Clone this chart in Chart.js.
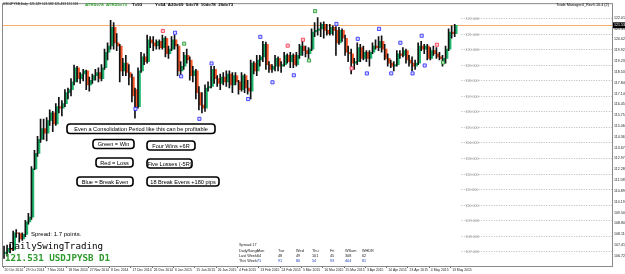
<!DOCTYPE html>
<html>
<head>
<meta charset="utf-8">
<script src="https://cdn.jsdelivr.net/npm/chart.js@4.4.0/dist/chart.umd.min.js"></script>
<style>
html, body { margin: 0; padding: 0; background: #fff; }
#wrap { width: 625px; height: 274px; }
</style>
</head>
<body>
<div id="wrap"><canvas id="chart" width="625" height="274"></canvas></div>
<script>
// USDJPYSB daily bars
var firstDay = new Date(2014, 9, 20);
var opens = [106.85,106.95,107.20,107.10,108.20,108.15,107.80,108.10,108.90,109.20,
  112.30,113.30,114.20,114.90,114.60,115.40,115.90,115.20,116.30,116.20,
  116.50,117.20,117.40,117.90,118.80,118.10,118.40,118.60,117.70,118.00,
  118.30,118.50,118.10,118.80,119.80,120.20,121.40,120.40,120.20,118.60,
  119.10,118.50,118.20,117.40,116.30,118.60,119.50,119.20,120.60,120.40,
  120.20,120.50,120.10,120.70,119.70,120.00,120.60,120.20,118.60,118.90,
  119.60,119.30,118.30,118.60,117.20,116.40,116.20,117.50,117.60,118.70,
  118.10,117.80,118.20,117.90,118.40,117.70,118.30,117.90,117.40,118.30,
  117.50,117.30,119.10,118.60,119.30,119.50,120.30,119.00,118.70,118.90,
  119.40,118.90,119.00,119.60,119.20,119.60,119.00,119.60,120.20,119.90,
  119.70,120.00,121.10,121.20,121.30,121.60,121.20,121.00,121.40,121.20,
  120.40,121.20,120.70,119.80,119.70,119.10,119.20,120.10,119.40,119.80,
  119.40,119.80,120.20,120.10,120.50,120.00,119.40,119.10,118.90,119.00,
  119.70,119.60,119.90,119.30,119.10,118.90,119.10,120.20,120.00,120.20,
  119.40,119.90,119.70,119.50,119.10,119.40,120.00,121.10,121.00];
var highs = [107.35,107.40,107.45,108.30,108.40,108.20,108.20,109.00,109.45,112.45,
  113.50,114.40,115.50,115.50,115.60,116.10,116.00,116.50,116.90,116.70,
  117.40,117.50,118.10,118.98,118.90,118.50,118.70,118.65,118.20,118.40,
  118.70,118.80,119.00,120.00,120.40,121.85,121.70,121.00,120.30,119.40,
  119.60,119.00,118.40,117.50,118.80,119.80,119.70,120.90,120.80,120.80,
  120.60,120.60,120.90,120.80,120.20,120.80,120.90,120.30,119.20,119.80,
  120.00,119.50,118.90,118.70,117.60,117.20,117.70,117.90,118.90,118.90,
  118.30,118.40,118.50,118.60,118.60,118.50,118.50,118.00,118.50,118.40,
  118.00,119.30,119.20,119.60,119.60,120.50,120.45,119.20,119.00,119.60,
  119.50,119.20,119.80,119.70,119.80,119.70,119.80,120.30,120.60,120.20,
  120.10,121.30,121.70,122.03,121.70,121.75,121.60,121.60,121.50,121.45,
  121.40,121.30,120.90,120.20,120.00,119.40,120.40,120.30,120.20,119.90,
  119.90,120.40,120.60,120.80,120.85,120.30,119.70,119.30,119.20,119.90,
  119.90,120.10,120.00,119.60,119.50,119.30,120.40,120.50,120.30,120.30,
  120.10,120.20,120.10,119.80,119.60,120.20,121.30,121.50,121.60];
var lows = [106.55,106.70,106.90,107.05,107.90,107.60,107.70,107.95,108.75,109.05,
  112.25,113.10,114.00,114.20,114.10,115.10,114.70,115.10,115.90,115.70,
  116.30,116.80,117.00,117.70,117.90,117.80,117.95,117.40,117.30,117.80,
  118.00,117.90,117.95,118.70,119.30,120.00,120.00,119.90,117.90,118.30,
  118.30,117.70,116.60,115.57,116.20,118.50,119.00,119.10,120.10,119.90,
  120.00,120.00,120.00,119.50,119.40,119.90,120.00,118.30,118.20,118.70,
  119.10,118.00,117.90,116.80,116.10,115.90,116.00,117.30,117.50,117.80,
  117.60,117.40,117.70,117.60,117.50,117.20,117.70,117.10,117.30,117.20,
  117.10,116.80,118.40,118.30,118.90,119.20,118.70,118.50,118.50,118.60,
  118.60,118.50,118.90,119.10,118.80,118.80,118.90,119.40,119.60,119.50,
  119.40,119.90,120.80,120.90,120.80,120.70,120.90,120.90,120.90,119.60,
  120.30,120.50,119.60,119.20,118.40,118.70,119.00,119.20,119.30,119.20,
  118.90,119.70,120.00,119.90,119.80,119.30,118.90,118.80,118.60,118.90,
  119.40,119.50,119.10,118.90,118.60,118.70,119.00,119.90,119.70,119.30,
  119.30,119.60,119.40,119.30,118.90,119.10,119.90,120.70,120.80];
var closes = [106.95,107.20,107.10,108.20,108.15,107.80,108.10,108.90,109.20,112.30,
  113.30,114.20,114.90,114.60,115.40,115.90,115.20,116.30,116.20,116.50,
  117.20,117.40,117.90,118.80,118.10,118.40,118.60,117.70,118.00,118.30,
  118.50,118.10,118.80,119.80,120.20,121.40,120.40,120.20,118.60,119.10,
  118.50,118.20,117.00,116.30,118.60,119.50,119.20,120.60,120.40,120.20,
  120.50,120.10,120.70,119.70,120.00,120.60,120.20,118.60,118.90,119.60,
  119.30,118.30,118.60,117.20,116.40,116.20,117.50,117.60,118.70,118.10,
  117.80,118.20,117.90,118.40,117.70,118.30,117.90,117.40,118.30,117.50,
  117.30,119.10,118.60,119.30,119.50,120.30,119.00,118.70,118.90,119.40,
  118.90,119.00,119.60,119.20,119.60,119.00,119.60,120.20,119.90,119.70,
  120.00,121.10,121.20,121.30,121.60,121.20,121.00,121.40,121.20,120.40,
  121.20,120.70,119.80,119.70,119.10,119.20,120.10,119.40,119.80,119.40,
  119.80,120.20,120.10,120.50,120.00,119.40,119.10,118.90,119.00,119.70,
  119.60,119.90,119.30,119.10,118.90,119.10,120.20,120.00,120.20,119.40,
  119.90,119.70,119.50,119.40,119.40,120.00,121.10,121.00,121.53];

// trade markers: [bar index, price]
var breakEvenMarks = [[43,116.16],[56,121.05],[58,118.25],[64,115.52],[68,119.08],[80,116.79],
  [84,120.79],[88,117.87],[95,118.32],[109,121.62],[116,120.66],[119,118.44],[123,121.30],
  [127,118.44],[130,120.41],[134,118.44],[137,120.86],[138,118.95]];
var lossMarks = [[52,121.17],[93,120.22],[98,120.60],[114,118.76],[142,120.28]];
var winMarks = [[59,120.35],[100,119.27],[102,122.44],[144,119.14]];

var priceTicks = [122.010,121.315,120.620,119.925,119.230,118.535,117.840,117.145,116.450,
  115.755,115.060,114.365,113.670,112.975,112.280,111.585,110.890,110.195,109.500,
  108.805,108.110,107.415,106.720];
var roundLevels = [122,121,120,119,118,117,116,115,114,113,112,111,110,109,108,107,106];

var rangeCols = ['DailyRange','Mon','Tue','Wed','Thu','Fri','WSum','WHDR'];
var lastWeek = ['Last Week:',64,48,49,101,45,308,62];
var thisWeek = ['This Week:',71,91,80,54,93,404,81];

var totalSlots = 200;
var nBars = closes.length;
var monthNames = ['Jan','Feb','Mar','Apr','May','Jun','Jul','Aug','Sep','Oct','Nov','Dec'];

var cats = [];
var day = new Date(firstDay);
for (var i = 0; i < totalSlots; i++) {
  if (i < nBars) {
    cats.push(day.getDate() + ' ' + monthNames[day.getMonth()] + ' ' + day.getFullYear());
    do { day.setDate(day.getDate() + 1); } while (day.getDay() === 0 || day.getDay() === 6);
  } else {
    cats.push('');
  }
}

var bodies = [], wicks = [], bodyColors = [];
for (var i = 0; i < totalSlots; i++) {
  if (i < nBars) {
    var o = opens[i], c = closes[i];
    if (Math.abs(o - c) < 0.03) c = o + 0.03;
    bodies.push([o, c]);
    wicks.push([lows[i], highs[i]]);
    bodyColors.push(closes[i] >= opens[i] ? '#1fb86e' : '#ff5a2a');
  } else {
    bodies.push(null);
    wicks.push(null);
    bodyColors.push('#000');
  }
}

function markSeries(list) {
  var arr = [];
  for (var i = 0; i < totalSlots; i++) arr.push(null);
  list.forEach(function (m) { arr[m[0]] = m[1]; });
  return arr;
}

function markerSet(list, fill, edge, style, r) {
  return {
    type: 'line', data: markSeries(list), showLine: false,
    pointStyle: style, pointRadius: r, pointHoverRadius: r,
    pointBackgroundColor: fill, pointBorderColor: edge, pointBorderWidth: 0.8, order: 0
  };
}

var txt = function (ctx, s, x, y, font, color, align) {
  ctx.font = font;
  ctx.fillStyle = color;
  ctx.textAlign = align || 'left';
  ctx.textBaseline = 'middle';
  ctx.fillText(s, x, y);
};

function roundBox(ctx, x, y, w, h, label) {
  ctx.beginPath();
  ctx.roundRect(x, y, w, h, 3);
  ctx.fillStyle = '#fff';
  ctx.fill();
  ctx.lineWidth = 1.6;
  ctx.strokeStyle = '#000';
  ctx.stroke();
  txt(ctx, label, x + w / 2, y + h / 2 + 0.5, '5.6px "Liberation Sans", Arial', '#000', 'center');
}

var overlay = {
  id: 'overlay',
  beforeDatasetsDraw: function (chart) {
    var ctx = chart.ctx, a = chart.chartArea, ys = chart.scales.y, xs = chart.scales.x;
    ctx.save();
    // round-number levels on the right
    var x0 = xs.getPixelForValue(nBars + 1);
    ctx.setLineDash([1, 1.5]);
    ctx.strokeStyle = '#b8b8b8';
    ctx.lineWidth = 1;
    roundLevels.forEach(function (v) {
      var y = Math.round(ys.getPixelForValue(v)) + 0.5;
      if (y < a.top || y > a.bottom) return;
      ctx.beginPath();
      ctx.moveTo(x0, y);
      ctx.lineTo(a.right, y);
      ctx.stroke();
      txt(ctx, v.toFixed(3), x0 + 4, y, '3.8px "Liberation Sans", Arial', '#9a9a9a');
    });
    ctx.setLineDash([]);
    // last price line
    var yl = Math.round(ys.getPixelForValue(closes[nBars - 1])) + 0.5;
    ctx.strokeStyle = '#f6b06c';
    ctx.beginPath();
    ctx.moveTo(a.left, yl);
    ctx.lineTo(a.right, yl);
    ctx.stroke();
    ctx.restore();
  },
  afterDraw: function (chart) {
    var ctx = chart.ctx, a = chart.chartArea, ys = chart.scales.y;
    ctx.save();
    ctx.strokeStyle = '#8a8a8a';
    ctx.lineWidth = 1;
    ctx.strokeRect(a.left - 0.5, a.top - 0.5, a.right - a.left + 1, a.bottom - a.top + 1);

    // last price tag
    var yl = ys.getPixelForValue(closes[nBars - 1]);
    ctx.fillStyle = '#000';
    ctx.fillRect(a.right + 1, yl - 3, 12, 6);
    txt(ctx, closes[nBars - 1].toFixed(3), a.right + 2, yl, '3.6px "Liberation Sans", Arial', '#fff');

    // header
    txt(ctx, 'USDJPYSB,Daily  121.529 121.582 121.433 121.531', 3, 4.5, '3.2px "Liberation Sans", Arial', '#000');
    txt(ctx, 'ATR5=78  ATR25=73', 85, 4.5, 'bold 4.4px "Liberation Sans", Arial', '#2c9a2c');
    txt(ctx, 'T=93', 132, 4.5, 'bold 4.4px "Liberation Sans", Arial', '#000');
    txt(ctx, 'Y=54  A20=69  5d=78  10d=78  20d=73', 155, 4.5, 'bold 4.4px "Liberation Sans", Arial', '#000');
    txt(ctx, 'Trade Manager4_Rev5.10.4 (2)', 609, 4.5, '3.8px "Liberation Sans", Arial', '#000', 'right');

    // notes
    roundBox(ctx, 67, 124, 148, 9.5, 'Even a Consolidation Period like this can be profitable');
    roundBox(ctx, 93, 139.5, 41, 9, 'Green = Win');
    roundBox(ctx, 147, 141, 48, 9, 'Four Wins +6R');
    roundBox(ctx, 96, 158, 37, 9, 'Red = Loss');
    roundBox(ctx, 147, 159, 45, 9, 'Five Losses (-5R)');
    roundBox(ctx, 77, 177, 56, 9, 'Blue = Break Even');
    roundBox(ctx, 147, 177, 72, 9, '18 Break Evens +180 pips');

    txt(ctx, 'Spread: 1.7 points.', 31, 234, '6px "Liberation Sans", Arial', '#000');
    txt(ctx, 'DailySwingTrading', 9, 247, '9.2px "DejaVu Sans Mono", monospace', '#000');
    txt(ctx, '121.531 USDJPYSB D1', 5, 258.5, 'bold 9.2px "DejaVu Sans Mono", monospace', '#2c9a2c');

    // daily range table
    var colX = [239, 257, 278, 296, 312, 330, 345, 362];
    var f = '3.8px "Liberation Sans", Arial';
    txt(ctx, 'Spread 17', 239, 245, f, '#222');
    rangeCols.forEach(function (s, k) { txt(ctx, s, colX[k], 250.5, f, '#222'); });
    lastWeek.forEach(function (s, k) { txt(ctx, String(s), colX[k], 255.5, f, '#222'); });
    thisWeek.forEach(function (s, k) { txt(ctx, String(s), colX[k], 260.5, f, k === 0 ? '#222' : '#1a3fbf'); });
    ctx.restore();
  }
};

new Chart(document.getElementById('chart'), {
  type: 'bar',
  data: {
    labels: cats,
    datasets: [
      { type: 'bar', data: bodies, backgroundColor: bodyColors, barThickness: 2, order: 2 },
      { type: 'bar', data: wicks, backgroundColor: '#111', barThickness: 1, order: 1 },
      markerSet(breakEvenMarks, '#d6d6ff', '#2424ff', 'rect', 2.2),
      markerSet(breakEvenMarks, '#2424ff', '#2424ff', 'crossRot', 1.3),
      markerSet(lossMarks, '#ffd0d0', '#ff2a4a', 'rect', 2.2),
      markerSet(lossMarks, '#ff2a4a', '#ff2a4a', 'crossRot', 1.3),
      markerSet(winMarks, '#b8e6b8', '#1f8f2f', 'rect', 2.2),
      markerSet(winMarks, '#1f8f2f', '#1f8f2f', 'crossRot', 1.3)
    ]
  },
  options: {
    responsive: false,
    animation: false,
    layout: { padding: { left: 2, top: 1, right: 0, bottom: 0 } },
    plugins: { legend: { display: false }, tooltip: { enabled: false } },
    scales: {
      x: {
        grid: {
          display: true, drawOnChartArea: false, tickLength: 2,
          color: function (c) { return (c.index % 7 === 0 && c.index < nBars) ? '#666' : 'rgba(0,0,0,0)'; }
        },
        border: { display: false },
        ticks: {
          autoSkip: false, maxRotation: 0, minRotation: 0, align: 'start', padding: 0,
          font: { size: 3.4, family: '"Liberation Sans", Arial' }, color: '#222',
          callback: function (v, i) { return (i % 7 === 0 && i < nBars) ? cats[i] : ''; }
        },
        afterFit: function (s) { s.height = 8; }
      },
      y: {
        position: 'right',
        min: 106.063, max: 122.889,
        grid: { display: false, drawTicks: false },
        border: { display: false },
        afterBuildTicks: function (s) { s.ticks = priceTicks.map(function (v) { return { value: v }; }); },
        ticks: {
          padding: 2, font: { size: 3.6, family: '"Liberation Sans", Arial' }, color: '#222',
          callback: function (v) { return Number(v).toFixed(3); }
        },
        afterFit: function (s) { s.width = 13; }
      }
    }
  },
  plugins: [overlay]
});
</script>
</body>
</html>
